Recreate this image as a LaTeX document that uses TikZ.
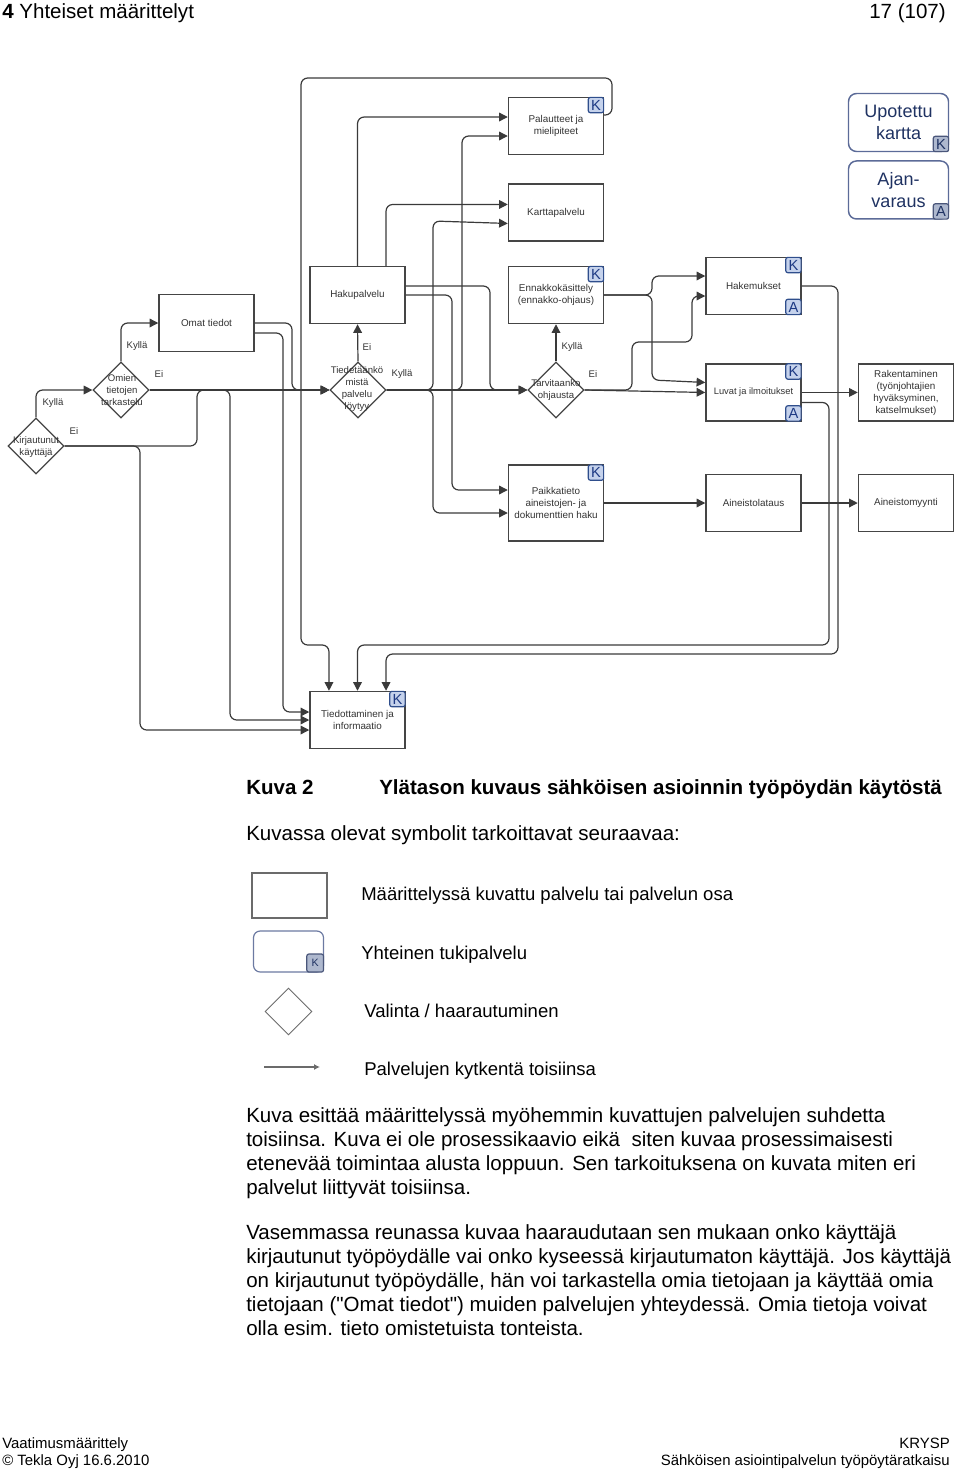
\documentclass[tikz,border=0pt]{standalone}
\usepackage{fontspec}
\setmainfont{Liberation Sans}[Ligatures=TeXOff]
\usetikzlibrary{positioning, calc, shapes.geometric, arrows.meta}
\definecolor{lineC}{HTML}{3A3A3A}
\definecolor{boxC}{HTML}{454545}
\definecolor{kFill}{HTML}{C5D2EC}
\definecolor{kDraw}{HTML}{2F4E8C}
\definecolor{kText}{HTML}{1E3A84}
\definecolor{uDraw}{HTML}{5C6B98}
\definecolor{uText}{HTML}{1F3262}
\definecolor{uFill}{HTML}{AEB8CE}
\definecolor{legC}{HTML}{6B6B6B}
\tikzset{
    Box/.style = {
        draw=boxC, line width=1.1pt,
        minimum width=71.25pt, minimum height=42.75pt,
        inner sep=1pt, align=center, text=black!80,
        font=\fontsize{7.4}{9}\selectfont
    },
    Choice/.style = {
        draw=boxC, line width=0.9pt, diamond, aspect=1,
        minimum width=42pt, minimum height=42pt, inner sep=0pt
    },
    ChoiceText/.style = {align=center, inner sep=0pt, text=black!80, font=\fontsize{7.2}{9}\selectfont},
    Lbl/.style = {inner sep=0pt, text=black!80, font=\fontsize{7.2}{9}\selectfont},
    Badge/.style = {
        draw=kDraw, fill=kFill, text=kText, line width=0.9pt,
        rounded corners=1.5pt, minimum size=11.5pt, inner sep=0pt,
        font=\fontsize{11}{11}\selectfont
    },
    UBadge/.style = {Badge, draw=uDraw!80!black, fill=uFill, text=uText},
    Support/.style = {
        draw=uDraw, line width=1.1pt, rounded corners=6pt,
        minimum width=75pt, minimum height=43.5pt, inner sep=1pt,
        align=center, text=uText, font=\fontsize{13.5}{16.5}\selectfont
    },
    Conn/.style = {
        draw=lineC, line width=0.9pt, rounded corners=5pt,
        -{Triangle[length=6.5pt, width=6.5pt]}
    },
    Body/.style = {inner sep=0pt, anchor=base west, align=left, font=\fontsize{15.4}{18}\selectfont},
    Legend/.style = {inner sep=0pt, anchor=base west, font=\fontsize{13.9}{16}\selectfont},
    Foot/.style = {inner sep=0pt, font=\fontsize{11.2}{13}\selectfont}
}

\begin{document}
\begin{tikzpicture}[x=0.75pt, y=-0.75pt]
    \useasboundingbox (0,0) rectangle (960,1471);

    \node [Body] (Head) at (2,18) {\textbf{4} Yhteiset määrittelyt};
    \node [Body, anchor=base east] (Page) at (946,18) {17 (107)};

    \node [Box] (Pal) at (556,126) {Palautteet ja\\mielipiteet};
    \node [Box, below=21pt of Pal] (Kartta) {Karttapalvelu};
    \node [Box] (Haku) at (357.5,295) {Hakupalvelu};
    \node [Box] (Omat) at (206.5,323) {Omat tiedot};
    \node [Box] (Ennakko) at (556,295) {Ennakkokäsittely\\(ennakko-ohjaus)};
    \node [Box] (Hakem) at (753.5,286) {Hakemukset};
    \node [Box, below=36pt of Hakem, font=\fontsize{7}{9}\selectfont] (Luvat) {Luvat ja ilmoitukset};
    \node [Box, right=42pt of Luvat] (Rak) {Rakentaminen\\(työnjohtajien\\hyväksyminen,\\katselmukset)};
    \node [Box, minimum height=57pt] (Paikka) at (556,503) {Paikkatieto\\aineistojen- ja\\dokumenttien haku};
    \node [Box] (Lataus) at (753.5,503) {Aineistolataus};
    \node [Box, right=42pt of Lataus] (Myynti) {Aineistomyynti};
    \node [Box] (Tiedot) at (357.5,720) {Tiedottaminen ja\\informaatio};

    \node [Badge, anchor=north east] (PalK) at (Pal.north east) {K};
    \node [Badge, anchor=north east] (EnnakkoK) at (Ennakko.north east) {K};
    \node [Badge, anchor=north east] (HakemK) at (Hakem.north east) {K};
    \node [Badge, anchor=south east] (HakemA) at (Hakem.south east) {A};
    \node [Badge, anchor=north east] (LuvatK) at (Luvat.north east) {K};
    \node [Badge, anchor=south east] (LuvatA) at (Luvat.south east) {A};
    \node [Badge, anchor=north east] (PaikkaK) at (Paikka.north east) {K};
    \node [Badge, anchor=north east] (TiedotK) at (Tiedot.north east) {K};

    \node [Support] (Upo) at (898.5,122.5) {Upotettu\\kartta};
    \node [Support, below=6pt of Upo] (Ajan) {Ajan-\\varaus};
    \node [UBadge, anchor=south east] (UpoK) at (Upo.south east) {K};
    \node [UBadge, anchor=south east] (AjanA) at (Ajan.south east) {A};

    \node [Choice] (Kirj) at (36,446) {};
    \node [Choice] (Omien) at (121,390) {};
    \node [Choice] (Tiet) at (358,390) {};
    \node [Choice] (Tarv) at (556,390) {};
    \node [ChoiceText] (KirjT) at (36,447) {Kirjautunut\\käyttäjä};
    \node [ChoiceText] (OmienT) at (122,390) {Omien\\tietojen\\tarkastelu};
    \node [ChoiceText] (TietT) at (357,389.5) {Tiedetäänkö\\mistä\\palvelu\\löytyy};
    \node [ChoiceText] (TarvT) at (556,390.5) {Tarvitaanko\\ohjausta};

    \node [Lbl] (KirjY) at (53,403) {Kyllä};
    \node [Lbl] (KirjN) at (74,431) {Ei};
    \node [Lbl] (OmienY) at (137,346) {Kyllä};
    \node [Lbl] (OmienN) at (159,374) {Ei};
    \node [Lbl] (TietN) at (367,347) {Ei};
    \node [Lbl] (TietY) at (402,374) {Kyllä};
    \node [Lbl] (TarvY) at (572,347) {Kyllä};
    \node [Lbl] (TarvN) at (593,374) {Ei};

    \draw [Conn] (Kirj.north) |- (Omien.west);
    \draw [Conn] (Kirj.east) -| (197,390) -- (Tiet.west);
    \draw [Conn] (Kirj.east) -| (140,730) -- ([yshift=-7.5pt]Tiedot.west);
    \draw [Conn] (Omien.north) |- (Omat.west);
    \draw [Conn] (Omien.east) -- (Tiet.west);
    \draw [Conn] (Omien.east) -| (230,720) -- (Tiedot.west);
    \draw [Conn] (Omat.east) -| (292,390) -- (Tiet.west);
    \draw [Conn] ([yshift=-7.5pt]Omat.east) -| (283,712) -- ([yshift=6pt]Tiedot.west);
    \draw [Conn] (Tiet.north) -- (Haku.south);
    \draw [Conn] (Tiet.east) -- (Tarv.west);
    \draw [Conn] (Tiet.east) -| (433,221) -- ([yshift=-8.25pt]Kartta.west);
    \draw [Conn] (Tiet.east) -| (433,513) -- ([yshift=-7.5pt]Paikka.west);
    \draw [Conn] (Tiet.east) -| (462,136) -- ([yshift=-7.5pt]Pal.west);
    \draw [Conn] (Haku.north) |- ([yshift=6.75pt]Pal.west);
    \draw [Conn] ([xshift=21.4pt]Haku.north) |- ([yshift=6pt]Kartta.west);
    \draw [Conn] ([yshift=6.75pt]Haku.east) -| (490,390) -- (Tarv.west);
    \draw [Conn] (Haku.east) -| (452,490) -- ([yshift=9.75pt]Paikka.west);
    \draw [Conn] (Tarv.north) -- (Ennakko.south);
    \draw [Conn] (Tarv.east) -- (Luvat.west);
    \draw [Conn] (Tarv.east) -| (632,342) -| (692,296) -- ([yshift=-7.5pt]Hakem.west);
    \draw [Conn] (Ennakko.east) -| (652,276) -- ([yshift=7.5pt]Hakem.west);
    \draw [Conn] (Ennakko.east) -| (652,380) -- ([yshift=7.5pt]Luvat.west);
    \draw [Conn] (Luvat.east) -- (Rak.west);
    \draw [Conn] ([yshift=-7.5pt]Luvat.east) -| (829,645) -| (Tiedot.north);
    \draw [Conn] (Hakem.east) -| (838,654) -| ([xshift=21.4pt]Tiedot.north);
    \draw [Conn] ([yshift=8.25pt]Pal.east) -| (612,78) -| (301,645) -| ([xshift=-21.4pt]Tiedot.north);
    \draw [Conn] (Paikka.east) -- (Lataus.west);
    \draw [Conn] (Lataus.east) -- (Myynti.west);

    \node [Body] (CapNum) at (246,794) {\textbf{Kuva 2}};
    \node [Body] (CapText) at (379,794) {\textbf{Ylätason kuvaus sähköisen asioinnin työpöydän käytöstä}};
    \node [Body] (Intro) at (246,840) {Kuvassa olevat symbolit tarkoittavat seuraavaa:};

    \node [draw=legC, line width=0.9pt, minimum width=56.25pt, minimum height=33.75pt] (LegBox) at (289.5,895.5) {};
    \node [draw=uDraw!90, line width=0.9pt, rounded corners=5pt, minimum width=52.5pt, minimum height=30.75pt] (LegSup) at (288.5,951.5) {};
    \node [UBadge, minimum width=12.5pt, minimum height=13.5pt, font=\fontsize{8}{8}\selectfont, anchor=south east] (LegK) at (LegSup.south east) {K};
    \node [Choice, draw=legC, line width=0.7pt, minimum width=35.25pt, minimum height=35.25pt] (LegDia) at (288.5,1011.5) {};
    \coordinate (LegA) at (264,1067);
    \coordinate (LegB) at (320,1067);
    \draw [legC, line width=1pt, -{Latex[length=4.5pt, width=4.5pt]}] (LegA) -- (LegB);
    \node [Legend] (LegT1) at (361,900) {Määrittelyssä kuvattu palvelu tai palvelun osa};
    \node [Legend] (LegT2) at (361,959) {Yhteinen tukipalvelu};
    \node [Legend] (LegT3) at (364,1017) {Valinta / haarautuminen};
    \node [Legend] (LegT4) at (364,1075) {Palvelujen kytkentä toisiinsa};

    \node [Body] (Par1) at (246,1194) {Kuva esittää määrittelyssä myöhemmin kuvattujen palvelujen suhdetta\\toisiinsa. Kuva ei ole prosessikaavio eikä\ \ siten kuvaa prosessimaisesti\\etenevää toimintaa alusta loppuun. Sen tarkoituksena on kuvata miten eri\\palvelut liittyvät toisiinsa.};
    \node [Body] (Par2) at (246,1335) {Vasemmassa reunassa kuvaa haaraudutaan sen mukaan onko käyttäjä\\kirjautunut työpöydälle vai onko kyseessä kirjautumaton käyttäjä. Jos käyttäjä\\on kirjautunut työpöydälle, hän voi tarkastella omia tietojaan ja käyttää omia\\tietojaan ("Omat tiedot") muiden palvelujen yhteydessä. Omia tietoja voivat\\olla esim. tieto omistetuista tonteista.};

    \node [Foot, anchor=base west] (Foot1) at (2,1448) {Vaatimusmäärittely};
    \node [Foot, anchor=base west] (Foot2) at (2,1465) {© Tekla Oyj 16.6.2010};
    \node [Foot, anchor=base east] (Foot3) at (950,1448) {KRYSP};
    \node [Foot, anchor=base east] (Foot4) at (950,1465) {Sähköisen asiointipalvelun työpöytäratkaisu};
\end{tikzpicture}
\end{document}
